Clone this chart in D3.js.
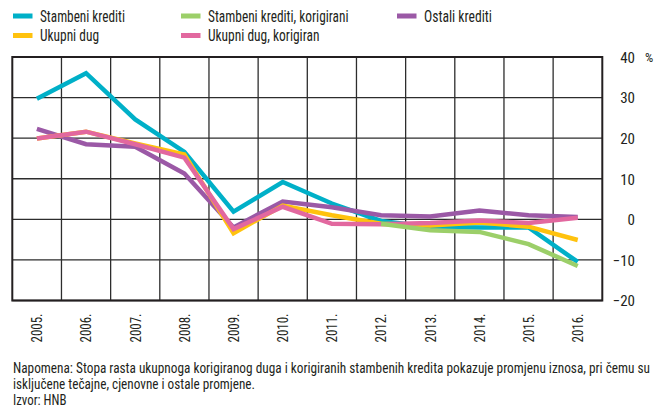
<!DOCTYPE html>
<html><head><meta charset="utf-8">
<script src="https://cdn.jsdelivr.net/npm/d3@7"></script>
<style>
html,body{margin:0;padding:0;background:#fff;}
svg{display:block;}
text{font-family:"Roboto Condensed","Liberation Sans",sans-serif;fill:#231f20;}
</style></head>
<body>
<svg id="chart" width="655" height="412"></svg>
<script>
const years = ["2005.","2006.","2007.","2008.","2009.","2010.","2011.","2012.","2013.","2014.","2015.","2016."];
const stambeni = [29.7, 36.0, 24.6, 16.6, 1.9, 9.2, 3.9, -0.4, -1.9, -2.0, -2.0, -10.5];
const stambeniKorig = [null, null, null, null, null, null, null, -1.1, -2.7, -3.1, -6.1, -11.5];
const ostali = [22.3, 18.5, 17.9, 11.3, -2.0, 4.4, 3.0, 1.0, 0.7, 2.2, 1.0, 0.6];
const ukupni = [19.9, 21.6, 18.7, 16.0, -3.4, 3.4, 1.0, -1.1, -1.5, -0.8, -1.8, -5.1];
const ukupniKorig = [19.9, 21.6, 18.5, 15.2, -2.4, 3.1, -1.1, -1.2, -0.9, -0.3, -0.9, 0.4];
const yTicks = [-20, -10, 0, 10, 20, 30, 40];
const seriesNames = ["Stambeni krediti","Stambeni krediti, korigirani","Ostali krediti","Ukupni dug","Ukupni dug, korigiran"];
const seriesColors = ["#00b0c8","#9ccf69","#9b59a6","#ffc20e","#e2689f"];
const notes = ["Napomena: Stopa rasta ukupnoga korigiranog duga i korigiranih stambenih kredita pokazuje promjenu iznosa, pri čemu su",
               "isključene tečajne, cjenovne i ostale promjene.",
               "Izvor: HNB"];

const svg = d3.select("#chart");
const pL = 12.3, pR = 602.3, pT = 57, pB = 300.5;
const x = d3.scaleBand().domain(years).range([pL, pR]).padding(0);
const y = d3.scaleLinear().domain([-20, 40]).range([pB, pT]);
const cx = d => x(d) + x.bandwidth()/2;

// grid
const g = svg.append("g");
g.selectAll("line.h").data(yTicks).join("line")
  .attr("x1", pL).attr("x2", pR).attr("y1", d=>y(d)).attr("y2", d=>y(d))
  .attr("stroke", "#2d2d2d").attr("stroke-width", 1.3);
g.selectAll("line.v").data(years.slice(1)).join("line")
  .attr("x1", d=>x(d)).attr("x2", d=>x(d)).attr("y1", pT).attr("y2", pB)
  .attr("stroke", "#2d2d2d").attr("stroke-width", 1.3);
g.append("rect").attr("x", pL).attr("y", pT).attr("width", pR-pL).attr("height", pB-pT)
  .attr("fill","none").attr("stroke","#231f20").attr("stroke-width",2);

// y axis labels (right)
const yAxis = d3.axisRight(y).tickValues(yTicks).tickSize(0).tickPadding(0)
  .tickFormat(d => d < 0 ? "\u2212" + Math.abs(d) : String(d));
const ya = svg.append("g").attr("transform", `translate(635,0)`).call(yAxis);
ya.select(".domain").remove();
ya.selectAll("text").attr("text-anchor","end").attr("font-size",15)
  .attr("font-family",'"Roboto Condensed",sans-serif').attr("fill","#231f20").attr("dy","0.36em");
svg.append("text").attr("x",645).attr("y",y(40)).attr("dy","0.36em").attr("font-size",13).text("%");

// x axis labels rotated
const xAxis = d3.axisBottom(x).tickSize(0).tickPadding(0);
const xa = svg.append("g").attr("transform", `translate(0,${pB})`).call(xAxis);
xa.select(".domain").remove();
xa.selectAll("text").attr("font-size",15).attr("font-family",'"Roboto Condensed",sans-serif')
  .attr("fill","#231f20")
  .attr("text-anchor","end").attr("transform","rotate(-90)")
  .attr("x",-13).attr("y",0).attr("dy","0.36em")
  .attr("textLength",29).attr("lengthAdjust","spacingAndGlyphs");

// lines
const line = d3.line().defined(d => d.v !== null).x(d => cx(d.yr)).y(d => y(d.v));
const order = [0,2,3,4,1];
const allData = [stambeni, stambeniKorig, ostali, ukupni, ukupniKorig];
order.forEach(i => {
  const pts = years.map((yr, j) => ({yr, v: allData[i][j]}));
  svg.append("path").datum(pts).attr("d", line).attr("fill","none")
    .attr("stroke", seriesColors[i]).attr("stroke-width", 4.5).attr("stroke-linejoin","miter");
});

// legend
const legPos = [[13,16],[181,16],[397,16],[13,35.5],[181,35.5]];
const legW = [85,140.5,68,59,111.5];
const legend = svg.append("g");
seriesNames.forEach((n,i) => {
  const [lx, ly] = legPos[i];
  legend.append("rect").attr("x",lx).attr("y",ly-2.5).attr("width",19.5).attr("height",5).attr("fill",seriesColors[i]);
  legend.append("text").attr("x",lx+27).attr("y",ly).attr("dy","0.36em").attr("font-size",16)
    .attr("textLength", legW[i]).attr("lengthAdjust","spacingAndGlyphs").text(n);
});

// notes
const noteW = [637, 242, 53.5];
notes.forEach((t,i) => {
  svg.append("text").attr("x",13).attr("y",373 + i*16).attr("font-size",14.5)
    .attr("textLength", noteW[i]).attr("lengthAdjust","spacingAndGlyphs").text(t);
});
</script>
</body></html>
